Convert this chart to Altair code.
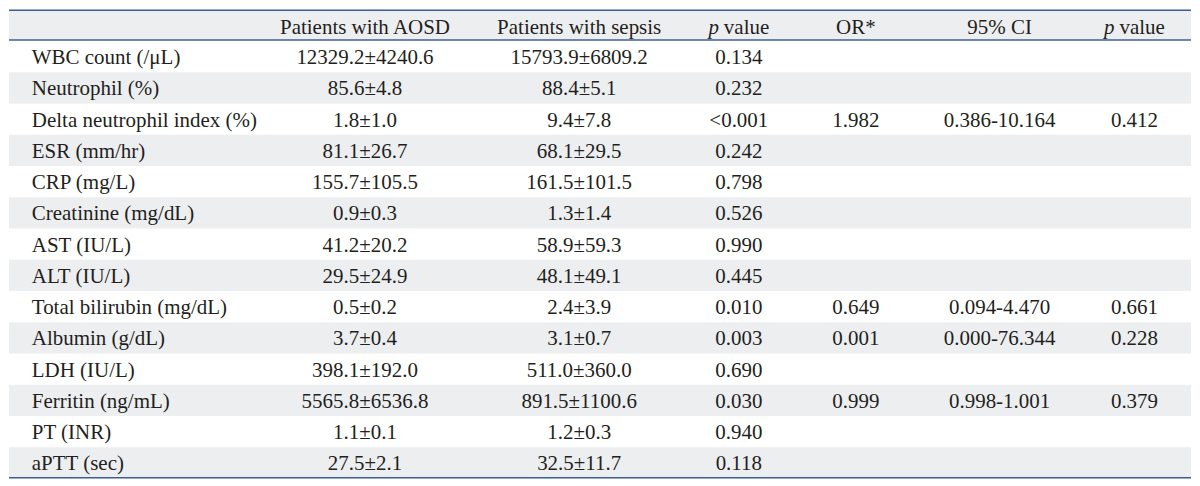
import altair as alt
import pandas as pd

# ---------------- data ----------------
variables = ["WBC count (/\u03bcL)", "Neutrophil (%)", "Delta neutrophil index (%)", "ESR (mm/hr)",
             "CRP (mg/L)", "Creatinine (mg/dL)", "AST (IU/L)", "ALT (IU/L)",
             "Total bilirubin (mg/dL)", "Albumin (g/dL)", "LDH (IU/L)", "Ferritin (ng/mL)",
             "PT (INR)", "aPTT (sec)"]
aosd = ["12329.2\u00b14240.6", "85.6\u00b14.8", "1.8\u00b11.0", "81.1\u00b126.7", "155.7\u00b1105.5",
        "0.9\u00b10.3", "41.2\u00b120.2", "29.5\u00b124.9", "0.5\u00b10.2", "3.7\u00b10.4",
        "398.1\u00b1192.0", "5565.8\u00b16536.8", "1.1\u00b10.1", "27.5\u00b12.1"]
sepsis = ["15793.9\u00b16809.2", "88.4\u00b15.1", "9.4\u00b17.8", "68.1\u00b129.5", "161.5\u00b1101.5",
          "1.3\u00b11.4", "58.9\u00b159.3", "48.1\u00b149.1", "2.4\u00b13.9", "3.1\u00b10.7",
          "511.0\u00b1360.0", "891.5\u00b11100.6", "1.2\u00b10.3", "32.5\u00b111.7"]
p_uni = ["0.134", "0.232", "<0.001", "0.242", "0.798", "0.526", "0.990", "0.445",
         "0.010", "0.003", "0.690", "0.030", "0.940", "0.118"]
odds = ["", "", "1.982", "", "", "", "", "", "0.649", "0.001", "", "0.999", "", ""]
ci = ["", "", "0.386-10.164", "", "", "", "", "", "0.094-4.470", "0.000-76.344", "", "0.998-1.001", "", ""]
p_multi = ["", "", "0.412", "", "", "", "", "", "0.661", "0.228", "", "0.379", "", ""]
headers = ["", "Patients with AOSD", "Patients with sepsis", "p value", "OR*", "95% CI", "p value"]

# ---------------- layout (styles) ----------------
COL_X = [27, 363, 579, 740, 858, 1003, 1139]
LEFT, RIGHT = 4, 1196
TOP, HEAD_BOT = 4, 35
ROW_TOP, RH = 36, 31.6
BASE_OFF = 7.5
HEAD_BASE = 28.5
FONT = "Liberation Serif"
FS = 21
TXT = "#231f20"
GRAY = "#edeef0"
BLUE = "#3b5f98"
BOTTOM = ROW_TOP + RH * len(variables)

xs = alt.Scale(domain=[LEFT, RIGHT])
ys = alt.Scale(domain=[TOP, BOTTOM], reverse=True)

# cells
columns = [variables, aosd, sepsis, p_uni, odds, ci, p_multi]
recs = []
for c, col in enumerate(columns):
    for r, val in enumerate(col):
        if val:
            recs.append({"col": c, "row": r, "text": val, "x": COL_X[c],
                         "y": ROW_TOP + (r + 0.5) * RH + BASE_OFF})
cells = pd.DataFrame(recs)

# bands
bands = [{"x1": LEFT, "x2": RIGHT, "y1": TOP, "y2": HEAD_BOT}]
for r in range(len(variables)):
    if r % 2 == 1:
        bands.append({"x1": LEFT, "x2": RIGHT, "y1": ROW_TOP + r * RH, "y2": ROW_TOP + (r + 1) * RH})
bands = pd.DataFrame(bands)

rules = pd.DataFrame({"x1": [LEFT] * 3, "x2": [RIGHT] * 3, "y": [TOP + 0.8, HEAD_BOT, BOTTOM - 0.8]})

hdr_plain = pd.DataFrame([{"text": h, "x": COL_X[i], "y": HEAD_BASE}
                          for i, h in enumerate(headers) if h and not h.startswith("p ")])
hdr_p = pd.DataFrame([{"p": h.split(" ", 1)[0], "rest": h.split(" ", 1)[1], "x": COL_X[i], "y": HEAD_BASE}
                      for i, h in enumerate(headers) if h.startswith("p ")])

X = lambda f="x": alt.X(f"{f}:Q", scale=xs, axis=None)
Y = lambda f="y": alt.Y(f"{f}:Q", scale=ys, axis=None)

band_layer = alt.Chart(bands).mark_rect(color=GRAY).encode(
    x=X("x1"), x2="x2:Q", y=Y("y1"), y2="y2:Q")
rule_layer = alt.Chart(rules).mark_rule(color=BLUE, strokeWidth=1.6).encode(
    x=X("x1"), x2="x2:Q", y=Y("y"))

base_txt = dict(font=FONT, fontSize=FS, color=TXT, baseline="alphabetic")
left_cells = alt.Chart(cells[cells.col == 0]).mark_text(align="left", **base_txt).encode(
    x=X(), y=Y(), text="text:N")
center_cells = alt.Chart(cells[cells.col > 0]).mark_text(align="center", **base_txt).encode(
    x=X(), y=Y(), text="text:N")
hdr1 = alt.Chart(hdr_plain).mark_text(align="center", **base_txt).encode(
    x=X(), y=Y(), text="text:N")
hdr_p_it = alt.Chart(hdr_p).mark_text(align="right", dx=-20, fontStyle="italic", **base_txt).encode(
    x=X(), y=Y(), text="p:N")
hdr_p_rest = alt.Chart(hdr_p).mark_text(align="left", dx=-15, **base_txt).encode(
    x=X(), y=Y(), text="rest:N")

chart = alt.layer(band_layer, rule_layer, left_cells, center_cells, hdr1, hdr_p_it, hdr_p_rest).properties(
    width=1184, height=470, padding=0
).configure_view(stroke=None)

chart.save("out.html", embed_options={"renderer": "svg", "actions": False})
